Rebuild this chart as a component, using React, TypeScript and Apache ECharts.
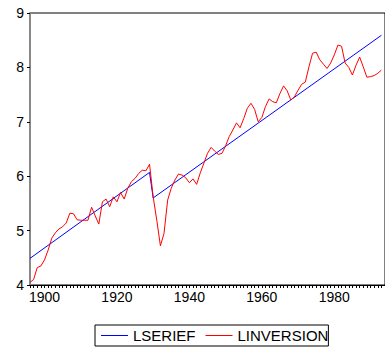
import { useEffect, useRef } from "react";
import * as echarts from "echarts";

// Annual series, first observation in 1896
const FIRST_YEAR = 1896;

const LINVERSION = [
  4.05, 4.1, 4.32, 4.35, 4.46, 4.64, 4.86, 4.96, 5.03, 5.07,
  5.14, 5.32, 5.31, 5.2, 5.19, 5.19, 5.19, 5.43, 5.27, 5.12,
  5.53, 5.58, 5.44, 5.62, 5.53, 5.7, 5.58, 5.78, 5.9, 5.96,
  6.05, 6.11, 6.1, 6.22, 5.62, 5.19, 4.72, 4.95, 5.56, 5.78,
  5.93, 6.04, 6.02, 5.97, 5.88, 5.95, 5.85, 6.06, 6.24, 6.42,
  6.53, 6.46, 6.4, 6.42, 6.56, 6.73, 6.85, 6.98, 6.89, 7.06,
  7.25, 7.34, 7.23, 7.0, 7.08, 7.28, 7.42, 7.37, 7.35, 7.52,
  7.66, 7.57, 7.4, 7.46, 7.58, 7.69, 7.73, 8.01, 8.26, 8.28,
  8.14, 8.06, 7.98, 8.08, 8.23, 8.41, 8.39, 8.08, 8.0, 7.86,
  8.04, 8.19, 8.01, 7.82, 7.83, 7.85, 7.89, 7.95,
];

// Segmented trend: break between 1929 and 1930
const LSERIEF_YEARS = [1896, 1929, 1930, 1993];
const LSERIEF_VALUES = [4.49, 6.07, 5.6, 8.59];

const X_LABELS = [1900, 1920, 1940, 1960, 1980];
const Y_MIN = 4;
const Y_MAX = 9;

const FONT = "'Liberation Sans', Arial, Helvetica, sans-serif";

export default function App() {
  const ref = useRef<HTMLDivElement>(null);

  useEffect(() => {
    if (!ref.current) return;
    const chart = echarts.init(ref.current, undefined, { renderer: "svg" });

    const years = LINVERSION.map((_, i) => FIRST_YEAR + i);
    const inversionData = LINVERSION.map((v, i) => [years[i], v]);
    const serieData = LSERIEF_VALUES.map((v, i) => [LSERIEF_YEARS[i], v]);

    chart.setOption({
      animation: false,
      backgroundColor: "#fff",
      grid: {
        left: 30,
        right: -3,
        top: 13,
        bottom: 64,
        show: true,
        borderColor: "#000",
        borderWidth: 1,
      },
      xAxis: {
        type: "value",
        min: FIRST_YEAR,
        max: 1994,
        axisLine: { show: true, lineStyle: { color: "#000", width: 1 } },
        axisTick: {
          show: true,
          length: 3,
          lineStyle: { color: "#000" },
          customValues: years,
        },
        axisLabel: {
          customValues: X_LABELS,
          formatter: (v: number) => String(v),
          color: "#000",
          fontSize: 14,
          fontFamily: FONT,
          margin: 5,
        },
        splitLine: { show: false },
      },
      yAxis: {
        type: "value",
        min: Y_MIN,
        max: Y_MAX,
        interval: 1,
        axisLine: { show: true, lineStyle: { color: "#888", width: 2 } },
        axisTick: { show: true, length: 3, lineStyle: { color: "#000" } },
        axisLabel: {
          color: "#000",
          fontSize: 14,
          fontFamily: FONT,
          margin: 6,
        },
        splitLine: { show: false },
      },
      legend: {
        left: 95,
        top: 325,
        orient: "horizontal",
        borderColor: "#000",
        borderWidth: 1,
        padding: [3, 0, 3, 6],
        icon: "rect",
        itemWidth: 27,
        itemHeight: 1,
        itemGap: 10,
        textStyle: { fontSize: 15, color: "#000", fontFamily: FONT },
        data: ["LSERIEF", "LINVERSION"],
      },
      series: [
        {
          name: "LSERIEF",
          type: "line",
          data: serieData,
          symbol: "none",
          lineStyle: { color: "#0000ff", width: 1 },
          itemStyle: { color: "#0000ff" },
        },
        {
          name: "LINVERSION",
          type: "line",
          data: inversionData,
          symbol: "none",
          lineStyle: { color: "#ff0000", width: 1 },
          itemStyle: { color: "#ff0000" },
        },
      ],
    });

    return () => chart.dispose();
  }, []);

  return (
    <div
      ref={ref}
      style={{
        position: "absolute",
        left: 0,
        top: 0,
        width: 385,
        height: 349,
        background: "#fff",
      }}
    />
  );
}
